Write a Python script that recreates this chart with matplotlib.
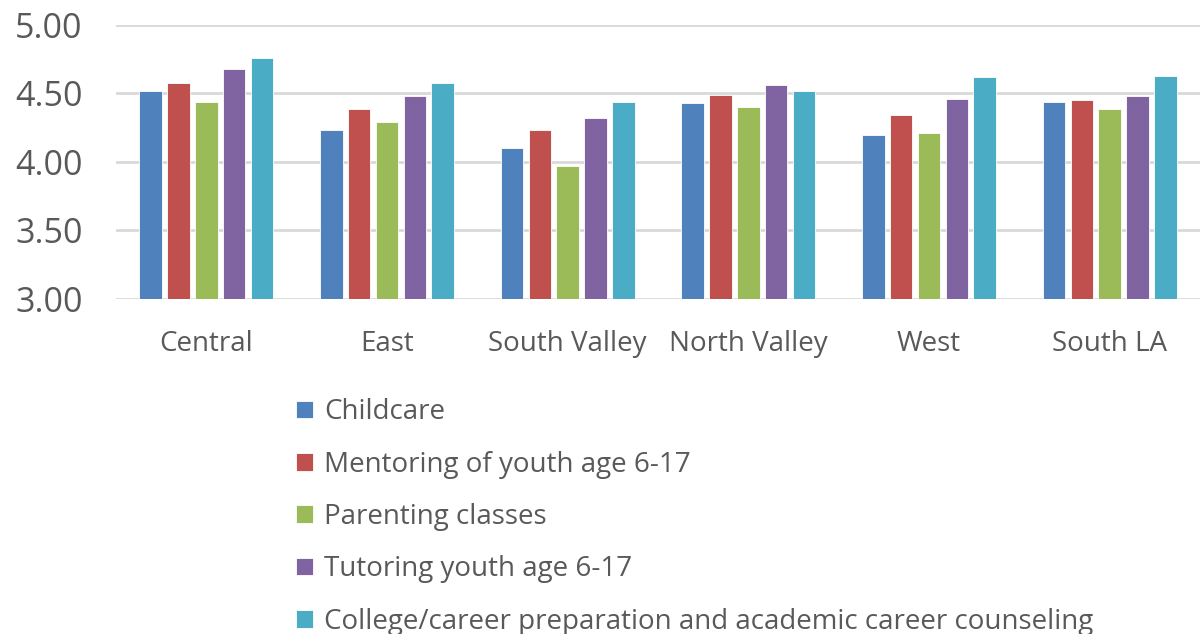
import numpy as np
import matplotlib.pyplot as plt

plt.rcParams["font.family"] = ["Open Sans", "DejaVu Sans"]

regions = ["Central", "East", "South Valley", "North Valley", "West", "South LA"]
series_names = [
    "Childcare",
    "Mentoring of youth age 6-17",
    "Parenting classes",
    "Tutoring youth age 6-17",
    "College/career preparation and academic career counseling",
]
childcare = [4.52, 4.23, 4.10, 4.43, 4.20, 4.44]
mentoring = [4.58, 4.39, 4.23, 4.49, 4.34, 4.45]
parenting = [4.44, 4.29, 3.97, 4.40, 4.21, 4.39]
tutoring = [4.68, 4.48, 4.32, 4.56, 4.46, 4.48]
college = [4.76, 4.58, 4.44, 4.52, 4.62, 4.63]
series_values = [childcare, mentoring, parenting, tutoring, college]
colors = ["#4F81BD", "#C0504D", "#9BBB59", "#8064A2", "#4BACC6"]

text_color = "#595959"

fig = plt.figure(figsize=(12, 6.34), dpi=100)
ax = fig.add_axes([116 / 1200, 1 - 299 / 634, 1084 / 1200, 274 / 634])

x = np.arange(len(regions))
pitch = 0.154
width = 0.124
for i, (name, vals, c) in enumerate(zip(series_names, series_values, colors)):
    ax.bar(x + (i - 2) * pitch, vals, width=width, color=c, label=name,
           edgecolor="white", linewidth=0.6, zorder=3)

ax.set_xlim(-0.5, len(regions) - 0.5)
ax.set_ylim(3.0, 5.0)
ax.set_yticks([3.0, 3.5, 4.0, 4.5, 5.0])
ax.set_yticklabels([f"{v:.2f}" for v in [3.0, 3.5, 4.0, 4.5, 5.0]])
ax.set_xticks(x)
ax.set_xticklabels(regions)
ax.tick_params(axis="y", length=0, pad=24, labelsize=24.5, colors=text_color)
ax.tick_params(axis="x", length=0, pad=22, labelsize=20, colors=text_color)
ax.grid(axis="y", color="#D9D9D9", linewidth=2, zorder=0)
for s in ax.spines.values():
    s.set_visible(False)

leg = fig.legend(loc="upper left", bbox_to_anchor=(285 / 1200, 1 - 387 / 634),
                 frameon=False, fontsize=20, handlelength=0.6, handleheight=0.6,
                 handletextpad=0.4, labelspacing=0.88, borderaxespad=0)
for t in leg.get_texts():
    t.set_color(text_color)

fig.savefig("out.png", dpi=100)
